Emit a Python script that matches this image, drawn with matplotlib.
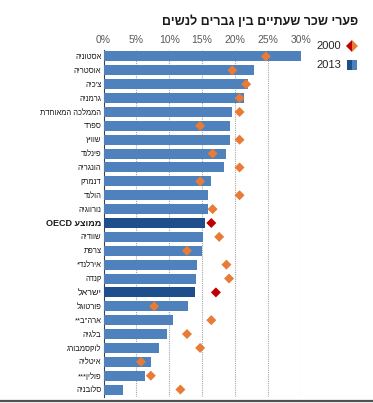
import matplotlib
matplotlib.use("Agg")
import matplotlib.pyplot as plt
from matplotlib.lines import Line2D

plt.rcParams['font.family'] = ['Liberation Sans', 'DejaVu Sans']

countries = ["אסטוניה", "אוסטריה", "צ'כיה", "גרמניה", "הממלכה המאוחדת", "ספרד",
             "שוויץ", "פינלנד", "הונגריה", "דנמרק", "הולנד", "נורווגיה",
             "ממוצע OECD", "שוודיה", "צרפת", "אירלנד*", "קנדה", "ישראל",
             "פורטוגל", 'ארה"ב**', "בלגיה", "לוקסמבורג", "איטליה", "פולין***", "סלובניה"]
gap_2013 = [30.0, 22.9, 22.0, 21.4, 19.6, 19.2, 19.2, 18.6, 18.3, 16.3, 15.9, 15.9,
            15.4, 15.1, 15.0, 14.2, 14.0, 13.9, 12.9, 10.5, 9.7, 8.4, 7.2, 6.3, 3.0]
gap_2000 = [24.7, 19.6, 21.7, 20.7, 20.7, 14.7, 20.7, 16.6, 20.7, 14.7, 20.7, 16.6,
            16.4, 17.6, 12.7, 18.7, 19.1, 17.1, 7.7, 16.4, 12.7, 14.7, 5.7, 7.2, 11.7]
highlight = ["ממוצע OECD", "ישראל"]
xticks = [0, 5, 10, 15, 20, 25, 30]
title = "פערי שכר שעתיים בין גברים לנשים"
legend_labels = ["2000", "2013"]


def visual(s):
    # matplotlib has no bidi support: reverse Hebrew runs for display
    if "OECD" in s:
        heb = s.replace("OECD", "").strip()
        return "OECD " + heb[::-1]
    return s[::-1]


W, H = 373, 403
fig = plt.figure(figsize=(W / 100, H / 100), dpi=100)
ax = fig.add_axes([103.5 / W, 1 - 396.5 / H, (300.7 - 103.5) / W, (396.5 - 49.5) / H])

BLUE = "#4F81BD"
DARK = "#1F4E8C"
ORANGE = "#E87B36"
RED = "#C00000"

n = len(countries)
ys = list(range(n))
bar_colors = [DARK if c in highlight else BLUE for c in countries]
ax.barh(ys, gap_2013, height=0.72, color=bar_colors, zorder=3)
dia_colors = [RED if c in highlight else ORANGE for c in countries]
ax.scatter(gap_2000, ys, marker="D", s=26, c=dia_colors, zorder=4, linewidths=0)

ax.set_xlim(0, 30)
ax.set_ylim(n - 0.5, -0.5)
ax.xaxis.tick_top()
ax.set_xticks(xticks)
ax.set_xticklabels([f"{t}%" for t in xticks], color="#595959", fontsize=7.5)
ax.tick_params(axis="x", length=0, pad=3)
for t in xticks[1:]:
    ax.axvline(t, color="#A6A6A6", lw=0.8, ls=(0, (1, 1)), zorder=1)

ax.set_yticks(ys)
ax.set_yticklabels([visual(c) for c in countries], fontsize=5.5, color="#1a1a1a")
for lbl, c in zip(ax.get_yticklabels(), countries):
    if c == "ממוצע OECD":
        lbl.set_fontweight("bold")
        lbl.set_fontsize(6.5)
    elif c == "ישראל":
        lbl.set_fontsize(6.5)
ax.tick_params(axis="y", length=0, pad=1.5)
for s in ["top", "right", "bottom"]:
    ax.spines[s].set_visible(False)
ax.spines["left"].set_color("#404040")
ax.spines["left"].set_linewidth(0.8)
ax.spines["left"].set_zorder(2)

fig.text(358 / W, 1 - 22 / H, visual(title), ha="right", va="center",
         fontsize=9, fontweight="bold", color="#1a1a1a")

# legend
fig.text(341 / W, 1 - 46 / H, legend_labels[0], ha="right", va="center", fontsize=8, color="#262626")
fig.text(341 / W, 1 - 65 / H, legend_labels[1], ha="right", va="center", fontsize=8, color="#262626")
fig.add_artist(Line2D([352 / W], [1 - 46 / H], marker="D", markersize=6.5, fillstyle="left",
                      markerfacecolor=RED, markerfacecoloralt=ORANGE, markeredgewidth=0,
                      transform=fig.transFigure))
fig.add_artist(Line2D([352 / W], [1 - 65 / H], marker="s", markersize=7, fillstyle="left",
                      markerfacecolor=DARK, markerfacecoloralt=BLUE, markeredgewidth=0,
                      transform=fig.transFigure))

# bottom rule
fig.add_artist(Line2D([0, 1], [1 - 401 / H, 1 - 401 / H], color="#505050", lw=1.6,
                      transform=fig.transFigure))

fig.savefig("out.png", dpi=100)
